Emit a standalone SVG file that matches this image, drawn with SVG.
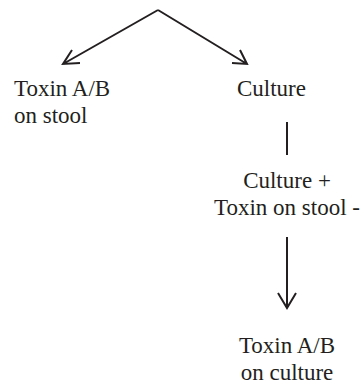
<svg xmlns="http://www.w3.org/2000/svg" width="363" height="386" viewBox="0 0 363 386">
<style>
text{font-family:'Liberation Serif','Times New Roman',Times,'DejaVu Serif',serif;font-size:23px;fill:#231f20}
.c{fill:none;stroke:#231f20;stroke-width:2;stroke-linecap:butt;stroke-linejoin:miter}
</style>
<rect width="363" height="386" fill="#fff"/>
<g id="connectors">
<path class="c" d="M158,10 L63,64 M72,50 L63,64 L80,63"/>
<path class="c" d="M158,10 L247,64 M240,50 L247,64 L232,63"/>
<path class="c" d="M287,122 L287,155"/>
<path class="c" d="M287,237 L287,308 M278,293 L287,308 L296,293"/>
</g>
<g id="toxin-stool">
<text font-family="Liberation Serif, serif" x="14" y="96">Toxin A/B</text>
<text font-family="Liberation Serif, serif" x="14" y="123">on stool</text>
</g>
<g id="culture">
<text font-family="Liberation Serif, serif" x="237" y="96">Culture</text>
</g>
<g id="culture-toxin">
<text font-family="Liberation Serif, serif" x="287" y="188" text-anchor="middle">Culture +</text>
<text font-family="Liberation Serif, serif" x="287" y="215" text-anchor="middle">Toxin on stool -</text>
</g>
<g id="toxin-culture">
<text font-family="Liberation Serif, serif" x="287" y="353" text-anchor="middle">Toxin A/B</text>
<text font-family="Liberation Serif, serif" x="287" y="380" text-anchor="middle">on culture</text>
</g>
</svg>
